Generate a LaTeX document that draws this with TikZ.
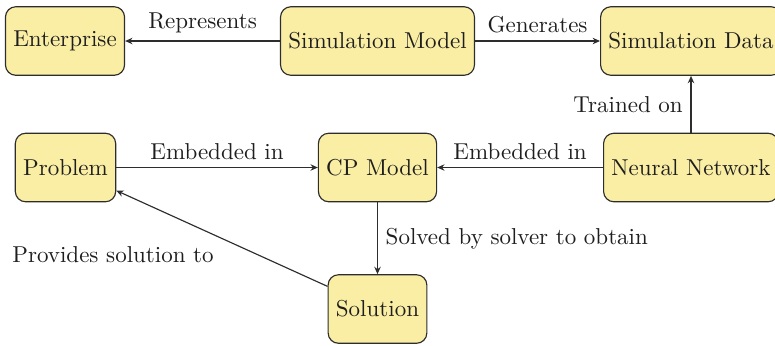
\documentclass[tikz,border=0pt]{standalone}
\usetikzlibrary{arrows.meta}
\definecolor{boxfill}{RGB}{250,238,165}
\definecolor{boxdraw}{RGB}{45,45,45}
\definecolor{txt}{RGB}{30,30,30}
\begin{document}
\begin{tikzpicture}[x=0.4348pt,y=-0.4348pt,
  box/.style={draw=boxdraw,fill=boxfill,rounded corners=4.5pt,minimum height=29.8pt,inner sep=3.4pt,text=txt,line width=0.5pt},
  conn/.style={draw=boxdraw,line width=0.5pt,-{Stealth[length=3.2pt,width=2.8pt]}},
  lab/.style={text=txt}]
\useasboundingbox (0,0) rectangle (775,345);
\clip (0,0) rectangle (775,345);
\node[box] (ent) at (65,41) {Enterprise};
\node[box] (sm) at (377.5,41) {Simulation Model};
\node[box] (sd) at (691,41) {Simulation Data};
\node[box] (pb) at (65.5,167.5) {Problem};
\node[box] (cp) at (377.5,167.5) {CP Model};
\node[box] (nn) at (691,167.5) {Neural Network};
\node[box] (sol) at (377.5,309) {Solution};
\draw[conn] (sm) -- node[above,lab] {Represents} (ent);
\draw[conn] (sm) -- node[above,lab] {Generates} (sd);
\draw[conn] (nn) -- node[left,lab] {Trained on} (sd);
\draw[conn] (pb) -- node[above,lab] {Embedded in} (cp);
\draw[conn] (nn) -- node[above,lab] {Embedded in} (cp);
\draw[conn] (cp) -- node[right,lab] {Solved by solver to obtain} (sol);
\draw[conn] (sol) -- node[below left,lab] {Provides solution to} (pb);
\end{tikzpicture}
\end{document}
